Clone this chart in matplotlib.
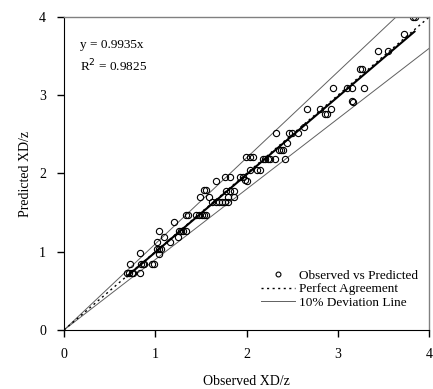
import numpy as np
import matplotlib
matplotlib.use("Agg")
import matplotlib.pyplot as plt

plt.rcParams['font.family'] = ['Liberation Serif', 'DejaVu Serif']

observed = [0.69, 0.71, 0.74, 0.76, 0.83, 0.72, 0.83, 0.84, 0.86, 0.88, 0.96, 0.98,
            1.02, 1.04, 1.06, 1.02, 1.04, 1.04, 1.10, 1.16, 1.20, 1.25, 1.26, 1.28,
            1.30, 1.34, 1.34, 1.36, 1.45, 1.48, 1.51, 1.53, 1.56, 1.49, 1.59, 1.53,
            1.55, 1.62, 1.66, 1.70, 1.73, 1.76, 1.80, 1.67, 1.77, 1.82, 1.86, 1.80,
            1.86, 1.76, 1.82, 1.93, 1.96, 1.98, 2.00, 1.99, 2.04, 2.07, 2.04, 2.11,
            2.15, 2.18, 2.20, 2.23, 2.26, 2.31, 2.42, 2.35, 2.38, 2.40, 2.44, 2.32,
            2.46, 2.50, 2.56, 2.63, 2.66, 2.80, 2.93, 2.86, 2.88, 2.95, 3.10, 3.15,
            3.29, 3.16, 3.17, 3.24, 3.26, 3.44, 3.55, 3.72, 3.82, 3.84]
predicted = [0.73, 0.73, 0.73, 0.73, 0.73, 0.84, 0.98, 0.84, 0.84, 0.84, 0.84, 0.84,
             1.03, 1.03, 1.03, 1.13, 1.27, 0.97, 1.19, 1.13, 1.38, 1.19, 1.27, 1.27,
             1.27, 1.27, 1.47, 1.47, 1.47, 1.47, 1.47, 1.47, 1.47, 1.70, 1.70, 1.79,
             1.79, 1.63, 1.63, 1.63, 1.63, 1.63, 1.63, 1.90, 1.78, 1.78, 1.78, 1.70,
             1.70, 1.96, 1.96, 1.95, 1.95, 1.92, 1.90, 2.21, 2.21, 2.21, 2.05, 2.05,
             2.05, 2.19, 2.19, 2.19, 2.19, 2.19, 2.19, 2.30, 2.30, 2.30, 2.39, 2.52,
             2.52, 2.52, 2.52, 2.59, 2.82, 2.82, 2.82, 2.76, 2.76, 3.09, 3.09, 3.09,
             3.09, 2.93, 2.92, 3.34, 3.34, 3.57, 3.57, 3.79, 4.00, 4.00]
slope = 0.9935
r2 = 0.9825

fig = plt.figure(figsize=(4.33, 3.89), dpi=100)
ax = fig.add_axes([0.148, 0.152, 0.843, 0.804])

line_x = np.array([0, 4])
ax.plot(line_x, line_x * 1.1, color='#606060', lw=0.7)
ax.plot(line_x, line_x * 0.9, color='#606060', lw=0.7)
ax.plot(line_x, line_x, color='black', lw=1.0, ls=(0, (1.5, 2.5)))
fit_x = np.array([min(observed), max(observed)])
ax.plot(fit_x, slope * fit_x, color='black', lw=1.5)
ax.plot(observed, predicted, 'o', mfc='none', mec='black', ms=4.5, mew=0.8)

# legend built from proxies so the order matches the original
h_obs, = ax.plot([], [], 'o', mfc='none', mec='black', ms=3.5, mew=0.8)
h_perf, = ax.plot([], [], color='black', lw=1.0, ls=(0, (1.5, 2.5)))
h_dev, = ax.plot([], [], color='#606060', lw=0.7)
ax.legend([h_obs, h_perf, h_dev],
          ['Observed vs Predicted', 'Perfect Agreement', '10% Deviation Line'],
          loc='lower right', bbox_to_anchor=(0.985, 0.05), frameon=False,
          fontsize=9.5, handlelength=2.6, handletextpad=0.3, labelspacing=0.1,
          borderaxespad=0)

ax.text(0.044, 0.93, 'y = %.4fx' % slope, transform=ax.transAxes, fontsize=9.5, va='top')
ax.text(0.044, 0.87, 'R$^2$ = %.4f' % r2, transform=ax.transAxes, fontsize=9.5, va='top')

ax.set_xlim(0, 4)
ax.set_ylim(0, 4)
ax.set_xticks([0, 1, 2, 3, 4])
ax.set_yticks([0, 1, 2, 3, 4])
ax.tick_params(direction='out', length=5, width=1, labelsize=10, pad=8)
ax.tick_params(top=False, right=False)
for side in ['top', 'right']:
    ax.spines[side].set_color('#808080')
    ax.spines[side].set_linewidth(1)
ax.set_xlabel('Observed XD/z', fontsize=10, labelpad=10)
ax.set_ylabel('Predicted XD/z', fontsize=10, labelpad=5)

fig.savefig('out.png', dpi=100)
